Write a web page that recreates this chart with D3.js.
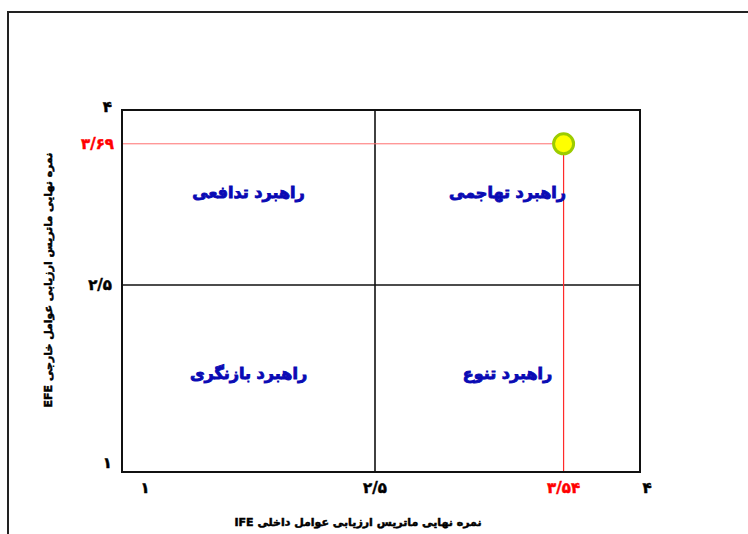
<!DOCTYPE html>
<html>
<head>
<meta charset="utf-8">
<script src="https://cdn.jsdelivr.net/npm/d3@7"></script>
<style>
  html, body { margin: 0; padding: 0; background: #fff; }
  svg { display: block; }
  text { font-family: "DejaVu Sans", sans-serif; font-weight: bold; }
</style>
</head>
<body>
<svg id="chart" width="748" height="534"></svg>
<script>
// ---- data ----
const ifeScore = 3.54;
const efeScore = 3.69;
const ifeLabel = "۳/۵۴";
const efeLabel = "۳/۶۹";
const axisValues = [1, 2.5, 4];
const xTickLabels = ["۱", "۲/۵", "۴"];
const yTickLabels = ["۱", "۲/۵", "۴"];
const quadrantNames = ["راهبرد تدافعی", "راهبرد تهاجمی", "راهبرد بازنگری", "راهبرد تنوع"];
const quadrantCol = [0, 1, 0, 1];
const quadrantRow = [0, 0, 1, 1];
const xTitle = "نمره نهایی ماتریس ارزیابی عوامل داخلی IFE";
const yTitle = "نمره نهایی ماتریس ارزیابی عوامل خارجی EFE";

// ---- layout ----
const svg = d3.select("#chart");
const box = { left: 122, top: 110, right: 640, bottom: 472 };

const x = d3.scaleLinear().domain(axisValues).range([145, 375, 647]);
const y = d3.scaleLinear().domain(axisValues).range([463, 285, 107]);

const colCenters = [(box.left + x(2.5)) / 2, (x(2.5) + box.right) / 2];
const rowCenters = [(box.top + y(2.5)) / 2, (y(2.5) + box.bottom) / 2];

// outer frame
svg.append("path")
  .attr("d", `M8,540 L8,12 L760,12`)
  .attr("fill", "none").attr("stroke", "#222").attr("stroke-width", 2);

// plot box
svg.append("rect")
  .attr("x", box.left).attr("y", box.top)
  .attr("width", box.right - box.left).attr("height", box.bottom - box.top)
  .attr("fill", "none").attr("stroke", "#111").attr("stroke-width", 2);

// quadrant dividers
svg.append("line")
  .attr("x1", x(2.5)).attr("x2", x(2.5)).attr("y1", box.top).attr("y2", box.bottom)
  .attr("stroke", "#111").attr("stroke-width", 1.6);
svg.append("line")
  .attr("x1", box.left).attr("x2", box.right).attr("y1", y(2.5)).attr("y2", y(2.5))
  .attr("stroke", "#111").attr("stroke-width", 1.6);

// reference lines to the point
svg.append("line")
  .attr("x1", box.left + 1).attr("x2", x(ifeScore)).attr("y1", y(efeScore)).attr("y2", y(efeScore))
  .attr("stroke", "#ff7070").attr("stroke-width", 1);
svg.append("line")
  .attr("x1", x(ifeScore)).attr("x2", x(ifeScore)).attr("y1", y(efeScore)).attr("y2", box.bottom - 1)
  .attr("stroke", "#ff2a2a").attr("stroke-width", 1.2);

// point
svg.append("circle")
  .attr("cx", x(ifeScore)).attr("cy", y(efeScore)).attr("r", 10)
  .attr("fill", "#ffff00").attr("stroke", "#9ccc00").attr("stroke-width", 3);

// quadrant labels
svg.selectAll("text.quad").data(quadrantNames).enter().append("text")
  .attr("class", "quad")
  .attr("x", (d, i) => colCenters[quadrantCol[i]])
  .attr("y", (d, i) => rowCenters[quadrantRow[i]])
  .attr("dy", -5)
  .attr("text-anchor", "middle")
  .attr("dominant-baseline", "central")
  .attr("direction", "rtl")
  .attr("fill", "#0a0ab4")
  .attr("stroke", "#0a0ab4").attr("stroke-width", 0.9)
  .attr("font-size", 16)
  .text(d => d);

// x tick labels
svg.selectAll("text.xt").data(axisValues).enter().append("text")
  .attr("class", "xt")
  .attr("x", d => x(d)).attr("y", 488)
  .attr("text-anchor", "middle").attr("dominant-baseline", "central")
  .attr("font-size", 15).attr("fill", "#000")
  .attr("stroke", "#000").attr("stroke-width", 0.5)
  .text((d, i) => xTickLabels[i]);
svg.append("text")
  .attr("x", x(ifeScore)).attr("y", 488)
  .attr("text-anchor", "middle").attr("dominant-baseline", "central")
  .attr("font-size", 15).attr("fill", "#ff0000")
  .attr("stroke", "#ff0000").attr("stroke-width", 0.5)
  .text(ifeLabel);

// y tick labels
svg.selectAll("text.yt").data(axisValues).enter().append("text")
  .attr("class", "yt")
  .attr("x", 112).attr("y", d => y(d))
  .attr("text-anchor", "end").attr("dominant-baseline", "central")
  .attr("font-size", 15).attr("fill", "#000")
  .attr("stroke", "#000").attr("stroke-width", 0.5)
  .text((d, i) => yTickLabels[i]);
svg.append("text")
  .attr("x", 114).attr("y", y(efeScore))
  .attr("text-anchor", "end").attr("dominant-baseline", "central")
  .attr("font-size", 15).attr("fill", "#ff0000")
  .attr("stroke", "#ff0000").attr("stroke-width", 0.5)
  .text(efeLabel);

// axis titles
svg.append("text")
  .attr("x", 358).attr("y", 522)
  .attr("text-anchor", "middle").attr("dominant-baseline", "central")
  .attr("direction", "rtl")
  .attr("font-size", 11).attr("fill", "#000")
  .attr("stroke", "#000").attr("stroke-width", 0.5)
  .text(xTitle);
svg.append("text")
  .attr("transform", "translate(48,280) rotate(-90)")
  .attr("text-anchor", "middle").attr("dominant-baseline", "central")
  .attr("direction", "rtl")
  .attr("font-size", 11).attr("fill", "#000")
  .attr("stroke", "#000").attr("stroke-width", 0.5)
  .text(yTitle);
</script>
</body>
</html>
